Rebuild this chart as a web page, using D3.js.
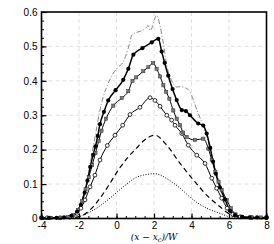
<!DOCTYPE html>
<html>
<head>
<meta charset="utf-8">
<script src="https://cdn.jsdelivr.net/npm/d3@7"></script>
<style>
  body { margin: 0; background: #fff; }
  .axis text { font-family: "Liberation Sans", Arial, sans-serif; font-size: 10px; fill: #000; }
  .axis .domain { display: none; }
  .grid line { stroke: #d8d8d8; stroke-dasharray: 4,3; stroke-width: 0.8; }
</style>
</head>
<body>
<script>
// profiles, [x, value]
var dashDot = [[-4,0.002],[-3,0.002],[-2.5,0.005],[-2.2,0.015],[-2,0.03],[-1.7,0.08],[-1.5,0.13],[-1.3,0.19],
  [-1.1,0.25],[-0.9,0.31],[-0.7,0.355],[-0.5,0.385],[-0.2,0.42],[0.1,0.44],[0.36,0.455],[0.6,0.49],[0.85,0.535],
  [1.1,0.541],[1.3,0.545],[1.52,0.551],[1.7,0.56],[1.8,0.546],[2.14,0.59],[2.32,0.561],[2.5,0.508],[2.68,0.445],
  [2.94,0.401],[3.21,0.382],[3.4,0.383],[3.65,0.38],[3.92,0.368],[4.19,0.33],[4.54,0.28],[4.8,0.24],[5.0,0.2],
  [5.3,0.14],[5.6,0.09],[5.9,0.05],[6.2,0.02],[6.5,0.006],[7,0.003],[8,0.003]];

var filledCircles = [[-4,0.002],[-3.6,0.002],[-3.2,0.002],[-2.8,0.003],[-2.4,0.008],[-2.1,0.02],[-1.9,0.04],
  [-1.7,0.075],[-1.55,0.11],[-1.4,0.15],[-1.25,0.185],[-1.12,0.21],[-1.0,0.24],[-0.88,0.274],[-0.67,0.31],
  [-0.44,0.343],[-0.05,0.373],[0.36,0.403],[0.63,0.435],[0.9,0.476],[1.38,0.495],[1.88,0.512],[2.23,0.522],
  [2.41,0.485],[2.57,0.452],[2.76,0.415],[2.99,0.376],[3.21,0.344],[3.48,0.315],[3.7,0.312],[3.92,0.3],
  [4.36,0.276],[4.63,0.27],[4.81,0.247],[5.0,0.205],[5.15,0.165],[5.3,0.13],[5.52,0.09],[5.79,0.055],
  [6.05,0.022],[6.32,0.01],[6.7,0.005],[7.1,0.003],[7.5,0.003],[8,0.002]];

var squares = [[-4,0.002],[-3.5,0.002],[-3,0.002],[-2.6,0.004],[-2.3,0.01],[-2.05,0.025],[-1.85,0.05],
  [-1.65,0.085],[-1.48,0.12],[-1.3,0.155],[-1.12,0.19],[-0.95,0.225],[-0.8,0.255],[-0.56,0.29],[-0.17,0.328],
  [0.28,0.35],[0.63,0.37],[0.85,0.4],[1.05,0.41],[1.43,0.428],[1.7,0.44],[1.96,0.452],[2.14,0.435],[2.32,0.413],
  [2.5,0.387],[2.65,0.368],[2.82,0.348],[3.03,0.314],[3.21,0.29],[3.39,0.271],[3.55,0.25],[3.74,0.237],
  [4.19,0.228],[4.63,0.232],[4.9,0.203],[5.08,0.17],[5.27,0.136],[5.44,0.107],[5.61,0.083],[5.88,0.054],
  [6.1,0.03],[6.35,0.012],[6.7,0.005],[7.2,0.003],[7.7,0.003],[8,0.003]];

var openCircles = [[-4,0.002],[-3.7,0.002],[-3.0,0.002],[-2.5,0.004],[-2.1,0.015],[-1.9,0.03],[-1.68,0.054],
  [-1.41,0.092],[-1.15,0.126],[-0.88,0.17],[-0.49,0.212],[-0.08,0.242],[0.33,0.271],[0.72,0.302],[1.25,0.323],
  [1.79,0.351],[2.05,0.343],[2.32,0.326],[2.68,0.3],[2.94,0.286],[3.12,0.271],[3.48,0.247],[3.83,0.213],
  [4.28,0.184],[4.72,0.16],[5.08,0.117],[5.34,0.088],[5.61,0.059],[5.9,0.03],[6.2,0.012],[6.6,0.005],
  [7.2,0.003],[8,0.003]];

var dashed = [[-4,0.001],[-2.5,0.002],[-1.95,0.006],[-1.41,0.025],[-0.88,0.059],[-0.35,0.102],[0.1,0.141],
  [0.63,0.179],[1.08,0.205],[1.43,0.225],[2.05,0.242],[2.68,0.213],[3.39,0.16],[4.1,0.112],[4.81,0.068],
  [5.52,0.034],[5.96,0.015],[6.41,0.005],[7,0.002],[8,0.002]];

var dotted = [[-4,0.001],[-2.2,0.003],[-1.77,0.01],[-1.06,0.03],[-0.35,0.059],[0.36,0.092],[1.08,0.12],
  [1.43,0.126],[2.05,0.13],[2.68,0.116],[3.39,0.088],[4.1,0.054],[4.81,0.03],[5.52,0.015],[6.05,0.005],
  [7,0.002],[8,0.002]];

var xTicks = [-4, -2, 0, 2, 4, 6, 8],
    yTicks = [0, 0.1, 0.2, 0.3, 0.4, 0.5, 0.6];

var margin = {top: 12, right: 7.5, bottom: 25.5, left: 41.5},
    width = 274 - margin.left - margin.right,
    height = 244 - margin.top - margin.bottom;

var x = d3.scaleLinear().domain([-4, 8]).range([0, width]),
    y = d3.scaleLinear().domain([0, 0.6]).range([height, 0]);

var svg = d3.select("body").append("svg")
    .attr("width", 274)
    .attr("height", 244)
  .append("g")
    .attr("transform", "translate(" + margin.left + "," + margin.top + ")");

// dashed grid at the major ticks
svg.append("g").attr("class", "grid")
  .selectAll("line").data(xTicks.slice(1, -1))
  .enter().append("line")
    .attr("x1", x).attr("x2", x).attr("y1", 0).attr("y2", height);
svg.append("g").attr("class", "grid")
  .selectAll("line").data(yTicks.slice(1, -1))
  .enter().append("line")
    .attr("y1", y).attr("y2", y).attr("x1", 0).attr("x2", width);

// minor ticks (inward)
var xMinor = d3.range(-4, 8.01, 0.5), yMinor = d3.range(0, 0.601, 0.025);
svg.append("g")
    .attr("transform", "translate(0," + height + ")")
    .call(d3.axisBottom(x).tickValues(xMinor).tickSize(-2.5).tickFormat(""))
    .call(function(g) { g.select(".domain").remove(); g.selectAll("line").attr("stroke-width", 1); });
svg.append("g")
    .call(d3.axisLeft(y).tickValues(yMinor).tickSize(-2.5).tickFormat(""))
    .call(function(g) { g.select(".domain").remove(); g.selectAll("line").attr("stroke-width", 1); });

// major ticks with labels
svg.append("g").attr("class", "axis")
    .attr("transform", "translate(0," + height + ")")
    .call(d3.axisBottom(x).tickValues(xTicks).tickSize(-5).tickPadding(3)
      .tickFormat(function(d) { return String(d); }))
    .selectAll("line").attr("stroke-width", 1.2);
svg.append("g").attr("class", "axis")
    .call(d3.axisLeft(y).tickValues(yTicks).tickSize(-5).tickPadding(4)
      .tickFormat(function(d) { return d === 0 ? "0" : d3.format(".1f")(d); }))
    .selectAll("line").attr("stroke-width", 1.2);

var line = d3.line()
    .x(function(d) { return x(d[0]); })
    .y(function(d) { return y(d[1]); })
    .curve(d3.curveMonotoneX);

svg.append("path").datum(dotted)
    .attr("d", line).attr("fill", "none").attr("stroke", "#000")
    .attr("stroke-width", 1).attr("stroke-dasharray", "1,1.6");
svg.append("path").datum(dashed)
    .attr("d", line).attr("fill", "none").attr("stroke", "#000")
    .attr("stroke-width", 1.2).attr("stroke-dasharray", "5,3.5");
svg.append("path").datum(dashDot)
    .attr("d", line).attr("fill", "none").attr("stroke", "#777")
    .attr("stroke-width", 0.9).attr("stroke-dasharray", "5,2,1,2");

svg.append("path").datum(openCircles)
    .attr("d", line).attr("fill", "none").attr("stroke", "#000").attr("stroke-width", 1);
svg.append("path").datum(squares)
    .attr("d", line).attr("fill", "none").attr("stroke", "#000").attr("stroke-width", 1);
svg.append("path").datum(filledCircles)
    .attr("d", line).attr("fill", "none").attr("stroke", "#000").attr("stroke-width", 1.5);

svg.append("g").selectAll("circle").data(openCircles)
  .enter().append("circle")
    .attr("cx", function(d) { return x(d[0]); })
    .attr("cy", function(d) { return y(d[1]); })
    .attr("r", 1.9).attr("fill", "#fff").attr("stroke", "#000").attr("stroke-width", 0.8);
svg.append("g").selectAll("rect").data(squares)
  .enter().append("rect")
    .attr("x", function(d) { return x(d[0]) - 1.6; })
    .attr("y", function(d) { return y(d[1]) - 1.6; })
    .attr("width", 3.2).attr("height", 3.2)
    .attr("fill", "#777").attr("stroke", "#333").attr("stroke-width", 0.5);
svg.append("g").selectAll("circle").data(filledCircles)
  .enter().append("circle")
    .attr("cx", function(d) { return x(d[0]); })
    .attr("cy", function(d) { return y(d[1]); })
    .attr("r", 2.1).attr("fill", "#000");

// frame
svg.append("rect")
    .attr("width", width).attr("height", height)
    .attr("fill", "none").attr("stroke", "#000").attr("stroke-width", 1.6);

// x label
var lbl = svg.append("text")
    .attr("x", width / 2).attr("y", height + 21.5)
    .attr("text-anchor", "middle")
    .style("font-family", "'DejaVu Serif', 'Liberation Serif', serif")
    .style("font-size", "9px").style("font-style", "italic");
lbl.append("tspan").text("(x \u2212 x");
lbl.append("tspan").attr("dy", 1.5).style("font-size", "6.5px").text("c");
lbl.append("tspan").attr("dy", -1.5).text(")/W");
</script>
</body>
</html>
